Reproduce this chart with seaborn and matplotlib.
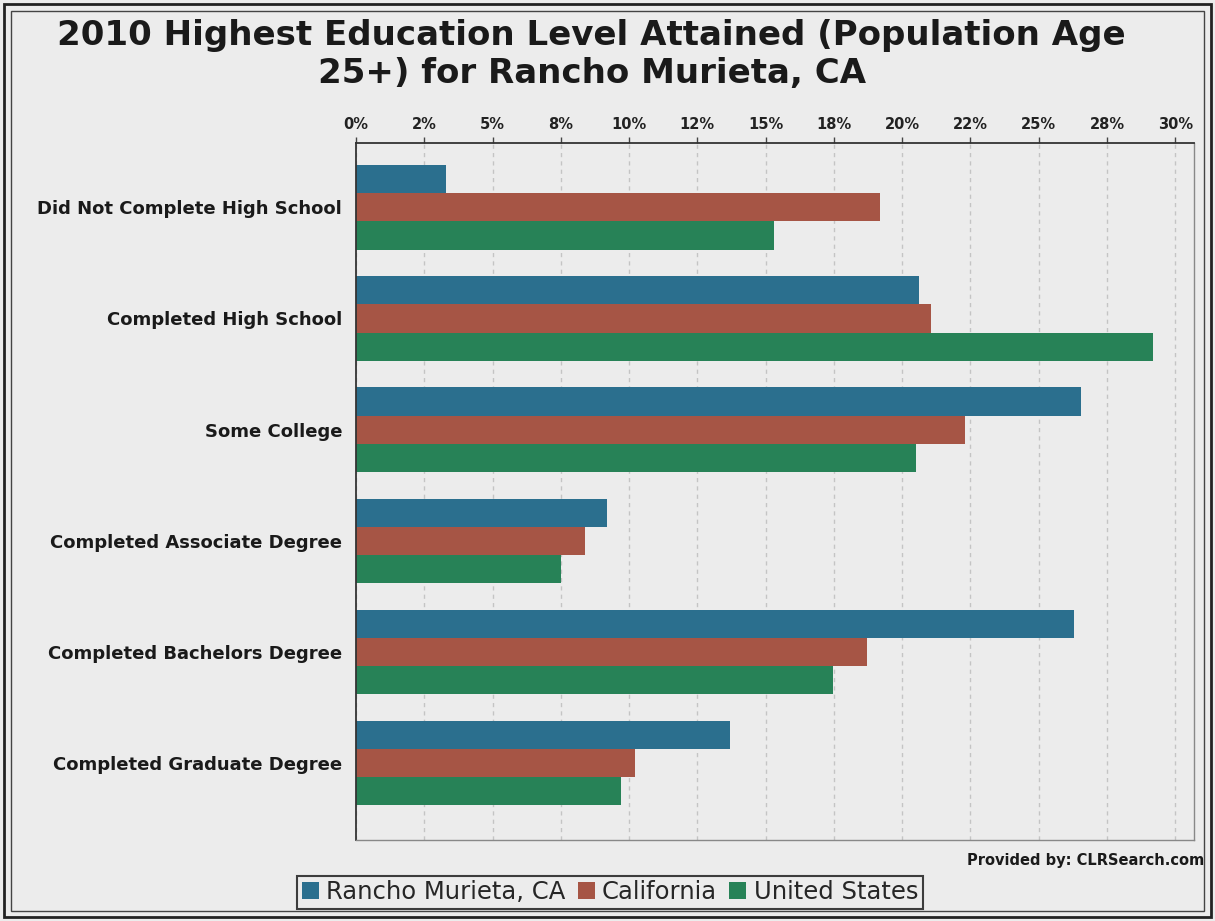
import matplotlib
matplotlib.use("Agg")
import matplotlib.pyplot as plt
import matplotlib.patches as mpatches
import seaborn as sns
import pandas as pd

categories = ["Did Not Complete High School", "Completed High School", "Some College",
              "Completed Associate Degree", "Completed Bachelors Degree", "Completed Graduate Degree"]
series_names = ["Rancho Murieta, CA", "California", "United States"]
rancho = [3.3, 20.6, 26.55, 9.2, 26.3, 13.7]
california = [19.2, 21.05, 22.3, 8.4, 18.7, 10.2]
united_states = [15.3, 29.2, 20.5, 7.5, 17.45, 9.7]
tick_values = [0, 2.5, 5, 7.5, 10, 12.5, 15, 17.5, 20, 22.5, 25, 27.5, 30]
tick_labels = ["0%", "2%", "5%", "8%", "10%", "12%", "15%", "18%", "20%", "22%", "25%", "28%", "30%"]
colors = ["#2b6f8e", "#a65545", "#278257"]

rows = []
for name, vals in zip(series_names, [rancho, california, united_states]):
    for c, v in zip(categories, vals):
        rows.append({"Category": c, "Series": name, "Value": v})
df = pd.DataFrame(rows)

sns.set_theme(style="white")
plt.rcParams['font.family'] = ['DejaVu Sans']

fig = plt.figure(figsize=(12.15, 9.21), dpi=100)
fig.patch.set_facecolor("#ececec")
ax = fig.add_axes([0.293, 0.088, 0.690, 0.757])
ax.set_facecolor("#ececec")

sns.barplot(data=df, x="Value", y="Category", hue="Series", order=categories,
            hue_order=series_names, palette=colors, orient="h", width=0.76,
            saturation=1, ax=ax, legend=False, linewidth=0)

ax.set_xlim(0, 30.7)
ax.set_ylim(5.69, -0.58)
ax.xaxis.tick_top()
ax.set_xticks(tick_values)
ax.set_xticklabels(tick_labels, fontsize=10.5, fontweight="bold", color="#222222")
ax.tick_params(axis="x", direction="out", length=4, width=1, color="#444444", pad=4)
ax.tick_params(axis="y", length=0, pad=10)
for lab in ax.get_yticklabels():
    lab.set_fontsize(13)
    lab.set_fontweight("bold")
    lab.set_color("#1a1a1a")
ax.set_xlabel("")
ax.set_ylabel("")
ax.grid(axis="x", color="#c4c4c4", linestyle=(0, (3, 3)), linewidth=1)
ax.set_axisbelow(True)
for side in ["left", "top"]:
    ax.spines[side].set_color("#333333")
    ax.spines[side].set_linewidth(1.3)
for side in ["right", "bottom"]:
    ax.spines[side].set_color("#888888")
    ax.spines[side].set_linewidth(1.0)

fig.text(0.487, 0.961, "2010 Highest Education Level Attained (Population Age",
         ha="center", va="center", fontsize=24.5, fontweight="bold", color="#1a1a1a")
fig.text(0.487, 0.920, "25+) for Rancho Murieta, CA",
         ha="center", va="center", fontsize=24.5, fontweight="bold", color="#1a1a1a")

fig.text(0.991, 0.066, "Provided by: CLRSearch.com", ha="right", va="center",
         fontsize=10.5, fontweight="bold", color="#1a1a1a")

handles = [mpatches.Patch(facecolor=c, edgecolor="none", label=n) for c, n in zip(colors, series_names)]
leg = fig.legend(handles=handles, loc="center", bbox_to_anchor=(0.502, 0.031), ncol=3,
                 frameon=True, fontsize=17.5, handlelength=0.7, handleheight=0.7,
                 handletextpad=0.3, columnspacing=0.5, borderpad=0.2, fancybox=False)
leg.get_frame().set_edgecolor("#111111")
leg.get_frame().set_linewidth(1.5)
leg.get_frame().set_facecolor("#ececec")

# double frame around the figure
fig.add_artist(mpatches.Rectangle((0.003, 0.004), 0.994, 0.992, transform=fig.transFigure,
                                  fill=False, edgecolor="#222222", linewidth=2))
fig.add_artist(mpatches.Rectangle((0.009, 0.011), 0.982, 0.977, transform=fig.transFigure,
                                  fill=False, edgecolor="#444444", linewidth=1))

fig.savefig("out.png", dpi=100, facecolor=fig.get_facecolor())
